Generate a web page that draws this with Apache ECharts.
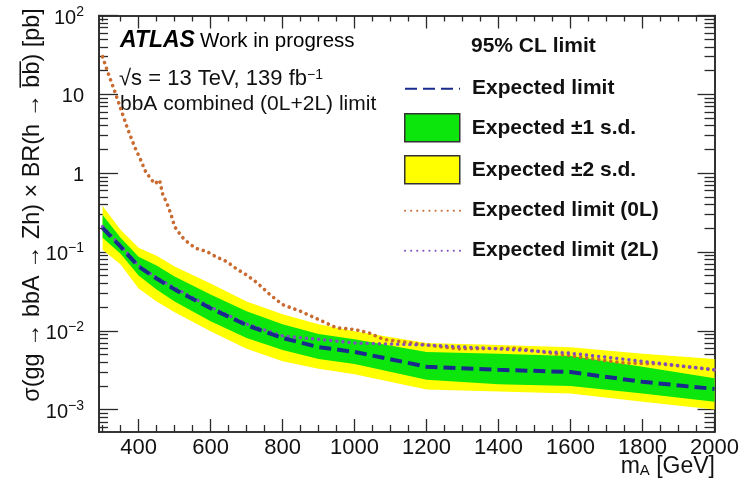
<!DOCTYPE html>
<html>
<head>
<meta charset="utf-8">
<script src="https://cdn.jsdelivr.net/npm/echarts@6/dist/echarts.min.js"></script>
<style>
  html, body { margin: 0; padding: 0; background: #fff; }
  #chart { width: 742px; height: 488px; }
</style>
</head>
<body>
<div id="chart"></div>
<script>
// Mass points (GeV) of the expected limit and its uncertainty bands
const masses = [300, 350, 400, 450, 500, 600, 700, 800, 900, 1000, 1200, 1400, 1600, 1800, 2000];
// Combined expected 95% CL limit [pb]
const expected = [0.2025, 0.1166, 0.0653, 0.0461, 0.0335, 0.0193, 0.0118, 0.0081, 0.0062, 0.0054, 0.0035, 0.0032, 0.0030, 0.00225, 0.00183];
// +/-1 s.d. band edges
const plus1 = [0.295, 0.1515, 0.0872, 0.0672, 0.0488, 0.0289, 0.0177, 0.0121, 0.0091, 0.0078, 0.0054, 0.0051, 0.0048, 0.0035, 0.0025];
const minus1 = [0.1515, 0.0952, 0.0503, 0.0335, 0.0236, 0.0132, 0.0081, 0.0057, 0.0044, 0.0038, 0.0024, 0.0021, 0.0020, 0.0016, 0.00126];
// +/-2 s.d. band edges
const plus2 = [0.3835, 0.1911, 0.1133, 0.0898, 0.0653, 0.0398, 0.0236, 0.0162, 0.0121, 0.0099, 0.0070, 0.0066, 0.0062, 0.0051, 0.0044];
const minus2 = [0.1069, 0.0692, 0.0345, 0.0236, 0.0172, 0.0099, 0.0059, 0.0041, 0.0033, 0.0028, 0.0018, 0.0017, 0.0016, 0.00126, 0.0010];
// Expected limit of the 2-lepton channel alone
const limit2L = [0.21, 0.12, 0.067, 0.047, 0.035, 0.020, 0.0122, 0.0086, 0.0078, 0.0070, 0.0066, 0.0059, 0.0052, 0.0041, 0.0032];
// Expected limit of the 0-lepton channel alone
const masses0L = [300, 315, 335, 370, 390, 405, 420, 445, 458, 467, 480, 490, 500, 520, 540, 560, 590, 615, 645, 670, 700, 725, 745, 765, 800, 850, 900, 950, 1000, 1040, 1080, 1120, 1180, 1290, 1450, 1560, 1750, 1850, 2000];
const limit0L = [30, 18.8, 10.5, 3.6, 2.1, 1.5, 1.03, 0.73, 0.82, 0.54, 0.40, 0.30, 0.21, 0.156, 0.128, 0.111, 0.101, 0.087, 0.0755, 0.062, 0.051, 0.042, 0.035, 0.0287, 0.0215, 0.0177, 0.0139, 0.0109, 0.0104, 0.0094, 0.0078, 0.0074, 0.0068, 0.0059, 0.0060, 0.0051, 0.0039, 0.0038, 0.0032];

// Axis ticks
const xMajor = [400, 600, 800, 1000, 1200, 1400, 1600, 1800, 2000];
const xMinor = [300, 350, 450, 500, 550, 650, 700, 750, 850, 900, 950, 1050, 1100, 1150, 1250, 1300, 1350, 1450, 1500, 1550, 1650, 1700, 1750, 1850, 1900, 1950];
const yMajor = [0.001, 0.01, 0.1, 1, 10, 100];
const yMinor = [];
[-4, -3, -2, -1, 0, 1].forEach(function (e) {
  for (let k = 2; k <= 9; k++) {
    const v = k * Math.pow(10, e);
    if (v > 5.2e-4 && v < 100) yMinor.push(v);
  }
});

const FONT = '"Liberation Sans", Arial, Helvetica, sans-serif';
const X_MIN = 290, X_MAX = 2000, Y_MIN = 5.2e-4, Y_MAX = 100;
const FRAME = { show: true, lineStyle: { color: '#2a2a2a', width: 1.6 } };

function yLabel(v) {
  const e = Math.round(Math.log10(v));
  if (e === 0) return '1';
  if (e === 1) return '10';
  return '10{sup|' + (e < 0 ? '\u2212' + (-e) : String(e)) + '}';
}

function xAxisDef(position, ticks, len, withLabels) {
  return {
    type: 'value', min: X_MIN, max: X_MAX, position: position,
    axisLine: FRAME,
    splitLine: { show: false },
    axisTick: { show: true, inside: true, length: len, customValues: ticks,
                lineStyle: { color: '#2a2a2a', width: 1.3 } },
    axisLabel: withLabels ? {
      show: true, customValues: ticks, fontSize: 22, fontFamily: FONT,
      color: '#111', margin: 5, formatter: function (v) { return String(v); }
    } : { show: false }
  };
}

function yAxisDef(position, ticks, len, withLabels) {
  return {
    type: 'log', logBase: 10, min: Y_MIN, max: Y_MAX, position: position,
    axisLine: FRAME,
    splitLine: { show: false },
    minorTick: { show: false },
    axisTick: { show: true, inside: true, length: len, customValues: ticks,
                lineStyle: { color: '#2a2a2a', width: 1.3 } },
    axisLabel: withLabels ? {
      show: true, customValues: ticks, formatter: yLabel, fontSize: 20,
      fontFamily: FONT, color: '#111', margin: 15, lineHeight: 26,
      padding: [5, 0, 0, 0],
      rich: { sup: { fontSize: 14, lineHeight: 14, verticalAlign: 'top', fontFamily: FONT, color: '#111' } }
    } : { show: false }
  };
}

function band(upper, lower, color) {
  return function (params, api) {
    if (params.dataIndex !== 0) return;
    const pts = [];
    for (let i = 0; i < masses.length; i++) pts.push(api.coord([masses[i], upper[i]]));
    for (let i = masses.length - 1; i >= 0; i--) pts.push(api.coord([masses[i], lower[i]]));
    return { type: 'polygon', shape: { points: pts }, style: { fill: color } };
  };
}

const GREEN = '#0ce60c', YELLOW = '#ffff00';
const BLUE = '#1a2a8c', ORANGE = '#c96b30', PURPLE = '#7f4fc2';
const NO_SYMBOL = { opacity: 0 };

// One legend block per entry so that the rows sit at even spacing
function legendRow(top, entry) {
  return {
    orient: 'vertical', left: 404, top: top, padding: 0,
    itemWidth: 55, itemHeight: 28,
    selectedMode: false,
    textStyle: { fontSize: 21, fontWeight: 'bold', fontFamily: FONT, color: '#111', padding: [0, 0, 0, 7] },
    data: [entry]
  };
}

const chart = echarts.init(document.getElementById('chart'), null, { renderer: 'canvas' });
chart.setOption({
  backgroundColor: '#fff',
  animation: false,
  grid: { left: 99, right: 27, top: 13, bottom: 56, containLabel: false },
  xAxis: [
    xAxisDef('bottom', xMajor, 13, true),
    xAxisDef('bottom', xMinor, 7, false),
    xAxisDef('top', xMajor, 13, false),
    xAxisDef('top', xMinor, 6, false)
  ],
  yAxis: [
    yAxisDef('left', yMajor, 19, true),
    yAxisDef('left', yMinor, 9, false),
    yAxisDef('right', yMajor, 17, false),
    yAxisDef('right', yMinor, 10, false)
  ],
  legend: [
    legendRow(77.5, { name: 'Expected limit', itemStyle: NO_SYMBOL }),
    legendRow(113, { name: 'Expected \u00b11 s.d.', icon: 'rect', itemStyle: { color: GREEN, borderColor: '#333', borderWidth: 1.5 } }),
    legendRow(155, { name: 'Expected \u00b12 s.d.', icon: 'rect', itemStyle: { color: YELLOW, borderColor: '#333', borderWidth: 1.5 } }),
    legendRow(199.5, { name: 'Expected limit (0L)', itemStyle: NO_SYMBOL }),
    legendRow(239.5, { name: 'Expected limit (2L)', itemStyle: NO_SYMBOL })
  ],
  graphic: [
    { type: 'text', x: 120, y: 41, style: { text: 'ATLAS', font: 'italic bold 23px ' + FONT, fill: '#000', verticalAlign: 'middle' } },
    { type: 'text', x: 200, y: 41, style: { text: 'Work in progress', font: '20.5px ' + FONT, fill: '#000', verticalAlign: 'middle' } },
    { type: 'text', x: 119, y: 79, style: {
        text: '\u221as = 13 TeV, 139 fb{sup|\u22121}', font: '22px ' + FONT, fill: '#111', verticalAlign: 'middle',
        rich: { sup: { fontSize: 14, verticalAlign: 'top', lineHeight: 14, fontFamily: FONT, fill: '#111' } } } },
    { type: 'text', x: 120, y: 104, style: { text: 'bbA combined (0L+2L) limit', font: '21px ' + FONT, fill: '#111', verticalAlign: 'middle' } },
    { type: 'text', x: 471, y: 46, style: { text: '95% CL limit', font: 'bold 21px ' + FONT, fill: '#111', verticalAlign: 'middle' } },
    { type: 'text', x: 715, y: 467, style: {
        text: 'm{sub|A} [GeV]', font: '23px ' + FONT, fill: '#111', align: 'right', verticalAlign: 'middle',
        rich: { sub: { fontSize: 15, verticalAlign: 'bottom', lineHeight: 15, fontFamily: FONT, fill: '#111', padding: [9, 0, 0, 0] } } } },
    { type: 'text', x: 33, y: 205, rotation: Math.PI / 2, style: {
        text: '\u03c3(gg \u2192 bbA \u2192 Zh) \u00d7 BR(h \u2192 b\u0305b\u0305) [pb]',
        font: '23.4px ' + FONT, fill: '#111', align: 'center', verticalAlign: 'middle' } }
  ],
  series: [
    {
      name: 'Expected \u00b12 s.d.', type: 'custom', clip: true,
      itemStyle: { color: YELLOW },
      renderItem: band(plus2, minus2, YELLOW),
      encode: { x: 0, y: [1, 2] },
      data: masses.map(function (m, i) { return [m, plus2[i], minus2[i]]; }),
      z: 1
    },
    {
      name: 'Expected \u00b11 s.d.', type: 'custom', clip: true,
      itemStyle: { color: GREEN },
      renderItem: band(plus1, minus1, GREEN),
      encode: { x: 0, y: [1, 2] },
      data: masses.map(function (m, i) { return [m, plus1[i], minus1[i]]; }),
      z: 2
    },
    {
      name: 'Expected limit (0L)', type: 'line', symbol: 'none', clip: true,
      lineStyle: { color: ORANGE, width: 3.6, type: [0.1, 6], cap: 'round' },
      itemStyle: { color: ORANGE },
      data: masses0L.map(function (m, i) { return [m, limit0L[i]]; }),
      z: 3
    },
    {
      name: 'Expected limit (2L)', type: 'line', symbol: 'none', clip: true,
      lineStyle: { color: PURPLE, width: 3.4, type: [0.1, 6], cap: 'round' },
      itemStyle: { color: PURPLE },
      data: masses.map(function (m, i) { return [m, limit2L[i]]; }),
      z: 4
    },
    {
      name: 'Expected limit', type: 'line', symbol: 'none', clip: true,
      lineStyle: { color: BLUE, width: 4, type: [12, 6] },
      itemStyle: { color: BLUE },
      data: masses.map(function (m, i) { return [m, expected[i]]; }),
      z: 5
    }
  ]
});
</script>
</body>
</html>
